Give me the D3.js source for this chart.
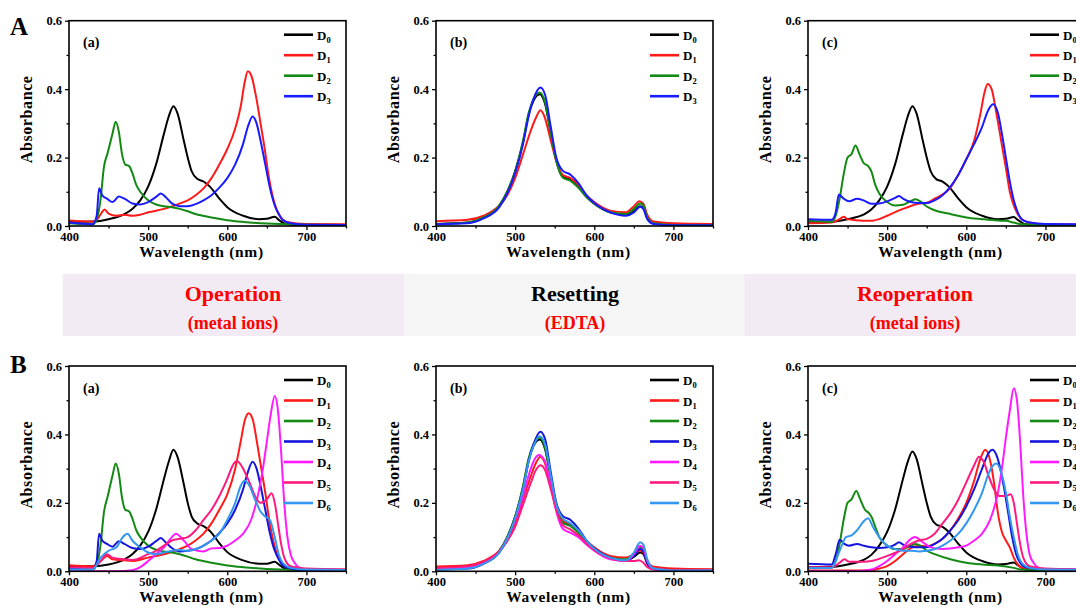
<!DOCTYPE html>
<html>
<head>
<meta charset="utf-8">
<script src="https://cdn.jsdelivr.net/npm/d3@7"></script>
<style>
  html, body { margin: 0; padding: 0; background: #ffffff; overflow: hidden; }
  svg { display: block; }
  text { font-family: "Liberation Serif", "Times New Roman", serif; font-weight: bold; }
</style>
</head>
<body>
<svg id="fig" width="1076" height="608"></svg>
<script>
// ---------- axis ticks ----------
const wavelengthTicks = [400, 500, 600, 700];
const wavelengthMinor = [450, 550, 650, 750];
const absorbanceTicks = [0.0, 0.2, 0.4, 0.6];
const absorbanceMinor = [0.1, 0.3, 0.5];
const wavelengthDomain = [400, 750];
const absorbanceDomain = [0, 0.6];

// ---------- series names / colours ----------
const seriesNames = ["D0", "D1", "D2", "D3", "D4", "D5", "D6"];
const seriesColorsA = ["#000000", "#ff1a1a", "#138a13", "#1a1aff"];
const seriesColorsB = ["#000000", "#ff1a1a", "#138a13", "#1414dc", "#ff1aff", "#ff1a80", "#3396f0"];

// ---------- stage labels ----------
const stageTitles = ["Operation", "Resetting", "Reoperation"];
const stageSubtitles = ["(metal ions)", "(EDTA)", "(metal ions)"];
const panelTags = ["(a)", "(b)", "(c)"];
const rowTags = ["A", "B"];

// ---------- spectra: [wavelength (nm), absorbance] ----------
// Row A, panel (a)
const aa_D0 = [[400,.012],[430,.013],[450,.02],[470,.035],[480,.05],[490,.075],[500,.115],[510,.18],[520,.27],[526,.32],[532,.35],[537,.33],[545,.25],[550,.2],[555,.16],[562,.138],[570,.13],[578,.115],[590,.08],[600,.055],[620,.03],[640,.02],[650,.021],[660,.027],[665,.018],[675,.005],[700,.002],[750,.002]];
const aa_D1 = [[400,.016],[430,.013],[436,.02],[441,.038],[445,.048],[450,.036],[460,.03],[470,.033],[480,.03],[490,.033],[500,.04],[520,.05],[540,.066],[550,.075],[560,.09],[570,.11],[580,.14],[590,.18],[600,.225],[610,.285],[617,.35],[622,.42],[626,.452],[631,.435],[637,.37],[642,.3],[647,.23],[652,.15],[657,.09],[662,.05],[667,.027],[675,.012],[700,.006],[750,.005]];
const aa_D2 = [[400,.008],[430,.005],[435,.02],[440,.08],[444,.17],[449,.215],[455,.27],[459,.305],[463,.275],[467,.21],[471,.18],[476,.175],[480,.155],[485,.12],[490,.1],[500,.075],[510,.063],[520,.058],[530,.055],[540,.05],[550,.043],[560,.035],[580,.025],[600,.017],[620,.012],[650,.007],[700,.004],[750,.003]];
const aa_D3 = [[400,.01],[430,.005],[435,.03],[438,.11],[442,.09],[448,.08],[455,.07],[463,.086],[470,.08],[480,.066],[490,.063],[500,.07],[510,.085],[516,.095],[522,.085],[530,.066],[540,.058],[550,.058],[560,.064],[570,.075],[580,.09],[590,.112],[600,.14],[610,.18],[620,.24],[626,.29],[632,.32],[637,.3],[642,.25],[648,.18],[654,.11],[660,.06],[665,.035],[670,.018],[680,.008],[700,.004],[750,.003]];

// Row A, panel (b)
const ab_D0 = [[400,.006],[440,.01],[460,.025],[480,.06],[490,.1],[500,.16],[510,.245],[517,.325],[523,.365],[531,.385],[538,.355],[545,.27],[552,.19],[560,.145],[570,.135],[580,.115],[590,.085],[600,.065],[620,.04],[640,.033],[650,.045],[658,.058],[662,.052],[667,.022],[675,.007],[700,.003],[750,.003]];
const ab_D1 = [[400,.014],[440,.018],[460,.03],[480,.06],[490,.09],[500,.14],[510,.21],[520,.28],[527,.32],[532,.338],[537,.32],[545,.25],[552,.19],[560,.15],[570,.14],[580,.12],[590,.09],[600,.07],[620,.045],[640,.04],[650,.058],[657,.072],[662,.065],[667,.032],[675,.013],[700,.008],[750,.006]];
const ab_D2 = [[400,.005],[440,.01],[460,.025],[480,.06],[490,.1],[500,.16],[510,.25],[517,.33],[523,.37],[531,.39],[538,.36],[545,.27],[552,.19],[560,.142],[570,.132],[580,.112],[590,.085],[600,.065],[620,.04],[640,.035],[650,.05],[658,.066],[662,.06],[667,.025],[675,.008],[700,.003],[750,.003]];
const ab_D3 = [[400,.005],[440,.008],[460,.022],[480,.055],[490,.095],[500,.155],[510,.24],[517,.32],[523,.37],[532,.405],[538,.382],[545,.29],[552,.2],[560,.162],[570,.15],[580,.125],[590,.09],[600,.067],[620,.04],[640,.03],[650,.04],[658,.056],[662,.05],[667,.02],[675,.006],[700,.002],[750,.002]];

// Row A, panel (c)
const ac_D0 = [[400,.012],[430,.013],[450,.02],[470,.033],[480,.048],[490,.075],[500,.115],[510,.18],[520,.27],[526,.32],[532,.35],[537,.33],[545,.25],[550,.2],[555,.16],[562,.137],[570,.13],[578,.115],[590,.08],[600,.055],[620,.03],[640,.02],[650,.021],[660,.026],[665,.018],[675,.005],[700,.002],[750,.002]];
const ac_D1 = [[400,.008],[430,.01],[440,.02],[445,.027],[450,.02],[460,.017],[480,.015],[490,.02],[500,.03],[520,.05],[540,.065],[550,.068],[560,.08],[580,.112],[590,.15],[600,.195],[610,.25],[618,.33],[623,.39],[627,.415],[632,.4],[638,.33],[644,.25],[650,.17],[655,.1],[660,.06],[665,.035],[670,.02],[680,.01],[700,.005],[750,.004]];
const ac_D2 = [[400,.015],[430,.012],[435,.03],[440,.08],[445,.15],[450,.2],[455,.21],[460,.235],[465,.21],[470,.185],[476,.175],[480,.16],[485,.12],[490,.095],[500,.07],[510,.06],[520,.062],[530,.073],[536,.078],[542,.072],[550,.057],[560,.046],[580,.035],[600,.025],[620,.02],[640,.016],[650,.015],[660,.01],[670,.005],[700,.003],[750,.003]];
const ac_D3 = [[400,.02],[430,.018],[435,.04],[439,.092],[445,.08],[452,.072],[462,.08],[470,.075],[480,.065],[490,.066],[500,.072],[510,.082],[515,.088],[520,.08],[530,.07],[540,.067],[550,.067],[560,.075],[570,.09],[580,.115],[590,.15],[600,.195],[610,.24],[620,.29],[628,.34],[634,.356],[640,.33],[645,.27],[650,.2],[655,.13],[660,.075],[665,.04],[670,.02],[680,.01],[700,.006],[750,.005]];

// Row B, panel (a)
const ba_D0 = [[400,.015],[430,.015],[450,.02],[470,.035],[480,.05],[490,.075],[500,.115],[510,.18],[520,.27],[526,.32],[532,.355],[537,.335],[545,.255],[550,.2],[555,.16],[562,.14],[570,.132],[578,.118],[590,.082],[600,.056],[620,.032],[640,.022],[650,.022],[660,.028],[665,.02],[675,.006],[700,.003],[750,.002]];
const ba_D1 = [[400,.018],[430,.015],[440,.03],[448,.045],[455,.035],[470,.032],[480,.03],[500,.04],[520,.05],[540,.065],[550,.075],[560,.09],[570,.11],[580,.14],[590,.18],[600,.225],[610,.3],[617,.38],[622,.44],[627,.462],[632,.445],[638,.37],[643,.3],[648,.23],[653,.15],[658,.09],[663,.05],[668,.027],[675,.012],[700,.007],[750,.005]];
const ba_D2 = [[400,.008],[430,.005],[435,.02],[440,.08],[444,.17],[449,.22],[455,.28],[459,.315],[463,.285],[467,.215],[471,.18],[476,.175],[480,.155],[485,.12],[490,.1],[500,.075],[510,.063],[520,.058],[530,.055],[540,.05],[550,.043],[560,.035],[580,.025],[600,.017],[620,.012],[650,.007],[700,.004],[750,.003]];
const ba_D3 = [[400,.01],[430,.005],[435,.03],[438,.11],[442,.09],[448,.08],[455,.072],[463,.088],[470,.08],[480,.068],[490,.065],[500,.072],[510,.088],[516,.097],[522,.085],[530,.068],[540,.058],[550,.06],[560,.064],[570,.075],[580,.09],[590,.112],[600,.14],[610,.18],[620,.24],[626,.29],[632,.32],[637,.3],[642,.25],[648,.18],[654,.11],[660,.06],[665,.035],[670,.018],[680,.008],[700,.004],[750,.003]];
const ba_D4 = [[400,0],[460,0],[480,.003],[490,.012],[500,.03],[510,.05],[520,.07],[530,.1],[535,.11],[545,.09],[555,.065],[570,.058],[580,.067],[590,.068],[600,.075],[610,.09],[620,.11],[630,.15],[640,.236],[645,.3],[650,.38],[655,.46],[660,.512],[664,.47],[668,.35],[672,.2],[676,.1],[680,.05],[685,.025],[690,.012],[700,.006],[750,.004]];
const ba_D5 = [[400,.012],[430,.01],[440,.03],[448,.05],[455,.04],[470,.035],[480,.033],[500,.05],[510,.06],[520,.075],[530,.09],[540,.095],[550,.1],[560,.12],[570,.15],[580,.18],[590,.22],[600,.27],[607,.31],[612,.322],[620,.3],[628,.26],[635,.22],[642,.2],[650,.21],[656,.228],[660,.2],[664,.14],[668,.08],[672,.04],[680,.015],[700,.008],[750,.005]];
const ba_D6 = [[400,.005],[430,.005],[440,.04],[450,.06],[460,.07],[465,.09],[470,.105],[474,.11],[480,.09],[490,.07],[500,.055],[510,.05],[520,.055],[530,.06],[540,.062],[550,.06],[560,.065],[570,.075],[580,.09],[590,.11],[600,.15],[610,.2],[617,.25],[622,.265],[628,.25],[635,.21],[642,.175],[648,.16],[654,.15],[660,.1],[665,.05],[670,.025],[680,.01],[700,.005],[750,.004]];

// Row B, panel (b)
const bb_D0 = [[400,.006],[440,.01],[460,.025],[480,.06],[490,.1],[500,.16],[510,.245],[517,.325],[523,.365],[531,.385],[538,.355],[545,.27],[552,.19],[560,.145],[570,.135],[580,.115],[590,.085],[600,.065],[620,.04],[640,.032],[650,.042],[658,.055],[662,.05],[667,.022],[675,.007],[700,.003],[750,.003]];
const bb_D1 = [[400,.014],[440,.018],[460,.03],[480,.06],[490,.09],[500,.14],[510,.21],[520,.28],[527,.32],[532,.335],[537,.32],[545,.25],[552,.19],[560,.148],[570,.138],[580,.118],[590,.09],[600,.07],[620,.045],[640,.04],[650,.05],[657,.06],[662,.055],[667,.03],[675,.013],[700,.008],[750,.006]];
const bb_D2 = [[400,.005],[440,.01],[460,.025],[480,.06],[490,.1],[500,.16],[510,.25],[517,.33],[523,.37],[531,.39],[538,.36],[545,.27],[552,.19],[560,.142],[570,.132],[580,.112],[590,.085],[600,.065],[620,.04],[640,.035],[650,.052],[658,.07],[662,.063],[667,.027],[675,.008],[700,.003],[750,.003]];
const bb_D3 = [[400,.005],[440,.008],[460,.022],[480,.055],[490,.095],[500,.155],[510,.24],[517,.32],[523,.37],[532,.408],[538,.385],[545,.29],[552,.2],[560,.162],[570,.15],[580,.125],[590,.09],[600,.067],[620,.04],[640,.03],[650,.045],[658,.065],[662,.058],[667,.024],[675,.006],[700,.002],[750,.002]];
const bb_D4 = [[400,.008],[440,.012],[460,.025],[480,.058],[490,.095],[500,.15],[510,.22],[517,.28],[523,.32],[530,.34],[537,.325],[545,.25],[552,.175],[560,.125],[570,.112],[580,.1],[590,.078],[600,.06],[620,.035],[640,.03],[650,.05],[658,.075],[662,.068],[667,.03],[675,.008],[700,.003],[750,.003]];
const bb_D5 = [[400,.01],[440,.015],[460,.028],[480,.058],[490,.088],[500,.13],[510,.195],[520,.26],[526,.295],[532,.31],[537,.3],[545,.24],[552,.18],[560,.135],[570,.122],[580,.105],[590,.082],[600,.062],[620,.038],[640,.03],[650,.03],[656,.032],[662,.025],[667,.012],[675,.005],[700,.003],[750,.003]];
const bb_D6 = [[400,.004],[440,.008],[460,.022],[480,.055],[490,.095],[500,.155],[510,.24],[517,.32],[523,.365],[531,.395],[538,.37],[545,.28],[552,.195],[560,.155],[570,.14],[580,.12],[590,.09],[600,.066],[620,.04],[640,.032],[650,.055],[658,.085],[662,.078],[667,.035],[675,.008],[700,.002],[750,.002]];

// Row B, panel (c)
const bc_D0 = [[400,.012],[430,.013],[450,.02],[470,.033],[480,.048],[490,.075],[500,.115],[510,.18],[520,.27],[526,.32],[532,.35],[537,.33],[545,.25],[550,.2],[555,.16],[562,.137],[570,.13],[578,.115],[590,.08],[600,.055],[620,.03],[640,.02],[650,.021],[660,.026],[665,.018],[675,.005],[700,.002],[750,.002]];
const bc_D1 = [[400,.002],[460,.002],[480,.003],[490,.008],[500,.015],[510,.03],[520,.05],[530,.068],[540,.075],[550,.073],[560,.08],[570,.095],[580,.12],[590,.155],[600,.2],[610,.265],[618,.33],[624,.355],[630,.325],[635,.26],[640,.17],[645,.115],[650,.09],[655,.07],[660,.04],[665,.02],[670,.01],[700,.005],[750,.004]];
const bc_D2 = [[400,.01],[430,.01],[435,.03],[440,.08],[445,.15],[450,.2],[455,.21],[461,.235],[466,.21],[472,.18],[477,.17],[480,.16],[485,.13],[490,.1],[500,.075],[510,.065],[520,.065],[530,.075],[536,.08],[542,.075],[550,.06],[560,.05],[580,.035],[600,.025],[620,.02],[640,.017],[660,.01],[670,.005],[700,.003],[750,.002]];
const bc_D3 = [[400,.022],[430,.02],[435,.05],[440,.092],[446,.08],[452,.075],[462,.08],[470,.075],[480,.07],[490,.068],[500,.07],[510,.078],[515,.085],[520,.078],[530,.072],[540,.07],[550,.07],[560,.08],[570,.095],[580,.12],[590,.15],[600,.19],[610,.24],[620,.3],[628,.345],[633,.355],[638,.34],[643,.3],[648,.24],[653,.17],[658,.1],[663,.05],[668,.025],[675,.012],[700,.006],[750,.005]];
const bc_D4 = [[400,0],[460,0],[480,.005],[490,.015],[500,.03],[510,.05],[520,.07],[530,.095],[535,.1],[545,.085],[555,.07],[570,.065],[590,.07],[600,.075],[610,.09],[620,.11],[630,.15],[640,.23],[645,.3],[650,.39],[655,.47],[660,.535],[664,.5],[668,.38],[672,.22],[676,.11],[680,.05],[685,.025],[690,.012],[700,.006],[750,.004]];
const bc_D5 = [[400,.012],[430,.012],[440,.025],[446,.035],[452,.028],[470,.028],[480,.03],[500,.045],[520,.065],[530,.08],[540,.09],[550,.095],[560,.11],[570,.14],[580,.17],[590,.21],[600,.26],[610,.31],[616,.335],[622,.32],[628,.28],[635,.24],[642,.22],[650,.22],[656,.225],[660,.2],[664,.14],[668,.08],[672,.04],[680,.015],[700,.008],[750,.005]];
const bc_D6 = [[400,.01],[430,.01],[440,.06],[448,.1],[455,.105],[462,.12],[470,.145],[476,.155],[482,.13],[490,.1],[500,.075],[510,.065],[520,.06],[530,.06],[540,.058],[550,.06],[560,.065],[570,.075],[580,.09],[590,.11],[600,.14],[610,.18],[620,.23],[628,.285],[634,.31],[638,.315],[644,.29],[650,.23],[655,.16],[660,.1],[665,.05],[670,.025],[680,.01],[700,.005],[750,.004]];

const spectra = {
  A: [[aa_D0, aa_D1, aa_D2, aa_D3], [ab_D0, ab_D1, ab_D2, ab_D3], [ac_D0, ac_D1, ac_D2, ac_D3]],
  B: [[ba_D0, ba_D1, ba_D2, ba_D3, ba_D4, ba_D5, ba_D6],
      [bb_D0, bb_D1, bb_D2, bb_D3, bb_D4, bb_D5, bb_D6],
      [bc_D0, bc_D1, bc_D2, bc_D3, bc_D4, bc_D5, bc_D6]]
};

// ---------- layout ----------
const svg = d3.select("#fig");
const colLeft = [69, 436, 808];
const plotW = 277;
const rowTop = { A: 20.7, B: 366 };
const plotH = 205.3;
const legendX = [284, 650, 1030];

function drawPanel(row, col) {
  const x0 = colLeft[col];
  const y0 = rowTop[row];
  const g = svg.append("g").attr("transform", `translate(${x0},${y0})`);
  const x = d3.scaleLinear().domain(wavelengthDomain).range([0, plotW]);
  const y = d3.scaleLinear().domain(absorbanceDomain).range([plotH, 0]);

  const clipId = `clip-${row}-${col}`;
  g.append("clipPath").attr("id", clipId)
    .append("rect").attr("x", 0).attr("y", 0).attr("width", plotW).attr("height", plotH);

  // minor ticks
  g.append("g").attr("transform", `translate(0,${plotH})`)
    .call(d3.axisBottom(x).tickValues(wavelengthMinor).tickSize(2.5).tickFormat(""))
    .call(a => a.select(".domain").remove());
  g.append("g")
    .call(d3.axisLeft(y).tickValues(absorbanceMinor).tickSize(2.5).tickFormat(""))
    .call(a => a.select(".domain").remove());

  // major ticks with labels
  const xa = g.append("g").attr("transform", `translate(0,${plotH})`)
    .call(d3.axisBottom(x).tickValues(wavelengthTicks).tickSize(4).tickPadding(2).tickFormat(d3.format("d")));
  const ya = g.append("g")
    .call(d3.axisLeft(y).tickValues(absorbanceTicks).tickSize(4).tickPadding(3).tickFormat(d3.format(".1f")));
  [xa, ya].forEach(a => {
    a.select(".domain").remove();
    a.selectAll("text").attr("font-size", 12.5).attr("font-family", "Liberation Serif").attr("font-weight", "bold").attr("fill", "#000");
  });
  g.selectAll(".tick line").attr("stroke", "#000").attr("stroke-width", 1.3);

  // spectra
  const line = d3.line().x(d => x(d[0])).y(d => y(d[1])).curve(d3.curveMonotoneX);
  const sets = spectra[row][col];
  const colors = row === "A" ? seriesColorsA : seriesColorsB;
  const lg = g.append("g").attr("clip-path", `url(#${clipId})`);
  sets.forEach((s, i) => {
    lg.append("path").datum(s)
      .attr("fill", "none")
      .attr("stroke", colors[i])
      .attr("stroke-width", 2)
      .attr("stroke-linejoin", "round")
      .attr("d", line);
  });

  // frame
  g.append("rect").attr("x", 0).attr("y", 0).attr("width", plotW).attr("height", plotH)
    .attr("fill", "none").attr("stroke", "#000").attr("stroke-width", 1.6);

  // axis titles
  g.append("text").attr("x", plotW / 2 - 6).attr("y", plotH + 31)
    .attr("text-anchor", "middle").attr("font-size", 15.5).attr("letter-spacing", 0.7)
    .text("Wavelength (nm)");
  g.append("text").attr("transform", `translate(${-37},${plotH / 2 - 4}) rotate(-90)`)
    .attr("text-anchor", "middle").attr("font-size", 16).attr("letter-spacing", 0.6)
    .text("Absorbance");

  // panel tag
  g.append("text").attr("x", 14).attr("y", 26.5).attr("font-size", 14).text(panelTags[col]);

  // legend
  const lx = legendX[col] - x0;
  sets.forEach((s, i) => {
    const ly = 14 + i * 20.5;
    g.append("line").attr("x1", lx).attr("x2", lx + 29).attr("y1", ly).attr("y2", ly)
      .attr("stroke", colors[i]).attr("stroke-width", 2.6);
    const t = g.append("text").attr("x", lx + 33).attr("y", ly + 5).attr("font-size", 13);
    t.append("tspan").text(seriesNames[i][0]);
    t.append("tspan").attr("font-size", 8.5).attr("dy", 3).text(seriesNames[i].slice(1));
  });
}

// ---------- stage band ----------
const bandTop = 274, bandH = 62;
const bandEdges = [62.7, 404.3, 744.3, 1076];
const bandFill = ["#f3ebf3", "#f5f5f5", "#f3ebf3"];
stageTitles.forEach((t, i) => {
  svg.append("rect").attr("x", bandEdges[i]).attr("y", bandTop)
    .attr("width", bandEdges[i + 1] - bandEdges[i]).attr("height", bandH)
    .attr("fill", bandFill[i]);
});
const stageCenters = [233, 575, 915];
stageTitles.forEach((t, i) => {
  svg.append("text").attr("x", stageCenters[i]).attr("y", 301)
    .attr("text-anchor", "middle").attr("font-size", 22)
    .attr("fill", i === 1 ? "#000" : "#ff0000").text(t);
  svg.append("text").attr("x", stageCenters[i]).attr("y", 328.5)
    .attr("text-anchor", "middle").attr("font-size", 18)
    .attr("fill", "#ff0000").text(stageSubtitles[i]);
});

// ---------- panels ----------
["A", "B"].forEach(row => [0, 1, 2].forEach(col => drawPanel(row, col)));

// row letters
svg.append("text").attr("x", 10).attr("y", 35).attr("font-size", 25).text(rowTags[0]);
svg.append("text").attr("x", 10).attr("y", 373).attr("font-size", 25).text(rowTags[1]);
</script>
</body>
</html>
